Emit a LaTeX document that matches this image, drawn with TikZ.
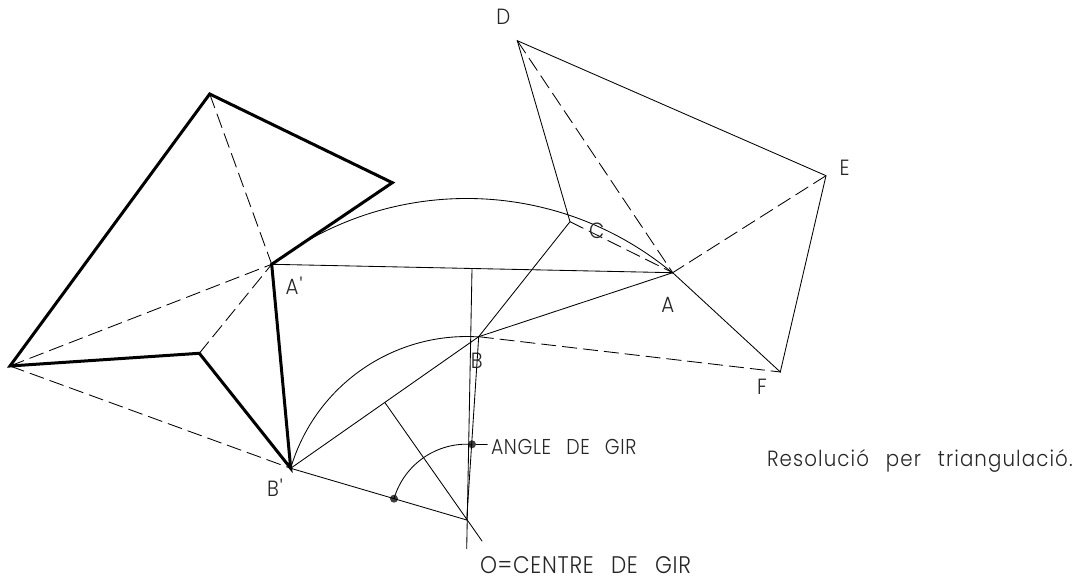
\documentclass[tikz,border=0pt]{standalone}
\usepackage{fontspec}
\newfontfamily\cad[LetterSpace=5,FakeStretch=0.9,WordSpace=2.6]{Poppins Light}
\newfontfamily\cadn[LetterSpace=3,FakeStretch=0.88,WordSpace=2.6]{Poppins Light}
\newfontfamily\cadw[LetterSpace=3,FakeStretch=0.9,WordSpace=2.6]{Poppins Light}
\tikzset{
  thinline/.style={line width=0.85pt,black,line cap=round},
  dashline/.style={line width=0.85pt,black,dash pattern=on 15pt off 6pt},
  boldline/.style={line width=3pt,black,line join=miter,line cap=round},
  lab/.style={inner sep=0pt,outer sep=0pt,font=\cad\fontsize{22}{22}\selectfont,text=black!85},
  txt/.style={lab,anchor=base west},
  dot/.style={circle,fill=black!75,inner sep=0pt,minimum size=8pt}
}
\begin{document}
\begin{tikzpicture}[x=1pt,y=1pt]
\useasboundingbox (0,0) rectangle (1080,578);
% y = 578 - pixel y
\coordinate (Ap) at (271.7,313.7);
\coordinate (Bp) at (290.7,109.7);
\coordinate (P1) at (209.7,484);
\coordinate (P2) at (392.3,395.3);
\coordinate (P3) at (10,212);
\coordinate (P4) at (199.3,224.7);
\coordinate (A) at (672.7,305.3);
\coordinate (B) at (478.7,241.3);
\coordinate (C) at (570,356.3);
\coordinate (D) at (517.3,537.3);
\coordinate (E) at (826,402.3);
\coordinate (F) at (780.3,206);
\coordinate (O) at (466.7,58);
\coordinate (M1) at (385,175.3);
\coordinate (M1e) at (482,37);
\coordinate (M2) at (472,308.7);
\coordinate (M2e) at (466.7,29.3);
\node[dot] (G1) at (394,79.3) {};
\node[dot] (G2) at (472,133.7) {};
\coordinate (Ge) at (487.3,133.7);
% dashed
\draw[dashline] (P3) -- (Bp);
\draw[dashline] (P1) -- (Ap);
\draw[dashline] (P3) -- (Ap);
\draw[dashline] (P4) -- (Ap);
\draw[dashline] (D) -- (A);
\draw[dashline] (C) -- (A);
\draw[dashline] (E) -- (A);
\draw[dashline] (B) -- (F);
% thin
\draw[thinline] (C) -- (D) -- (E) -- (F) -- (A);
\draw[thinline] (C) -- (B);
\draw[thinline] (A) -- (B);
\draw[thinline] (Ap) -- (A);
\draw[thinline] (Bp) -- (B);
\draw[thinline] (Bp) -- (O);
\draw[thinline] (B) -- (O);
\draw[thinline] (M1) -- (M1e);
\draw[thinline] (M2) -- (M2e);
\draw[thinline] (G2) -- (Ge);
\draw[thinline] (Ap) arc[start angle=127.3,end angle=50.2,radius=321.8pt];
\draw[thinline] (Bp) arc[start angle=163.6,end angle=86.25,radius=183.6pt];
\draw[thinline] (394,79.3) arc[start angle=163.7,end angle=86,radius=75.8pt];
% bold
\draw[boldline] (P2) -- (Ap) -- (Bp) -- (P4) -- (P3) -- (P1) -- cycle;
% labels
\node[lab] (lD) at (503.3,561.3) {D};
\node[lab] (lE) at (844.7,410.3) {E};
\node[lab] (lC) at (596.7,347.3) {C};
\node[lab] (lA) at (667.7,273) {A};
\node[lab] (lB) at (476.7,217) {B};
\node[lab] (lF) at (762,191.3) {F};
\node[lab] (lAp) at (294,292) {A'};
\node[lab] (lBp) at (275,90.5) {B'};
\node[txt,font=\cadn\fontsize{21.5}{22}\selectfont] (t1) at (491,123.7) {ANGLE DE GIR};
\node[txt,font=\cadw\fontsize{24}{24}\selectfont] (t2) at (480,4.5) {O=CENTRE DE GIR};
\node[txt,font=\cad\fontsize{22}{22}\selectfont] (t3) at (767,111.5) {Resolució per triangulació.};
\end{tikzpicture}
\end{document}
